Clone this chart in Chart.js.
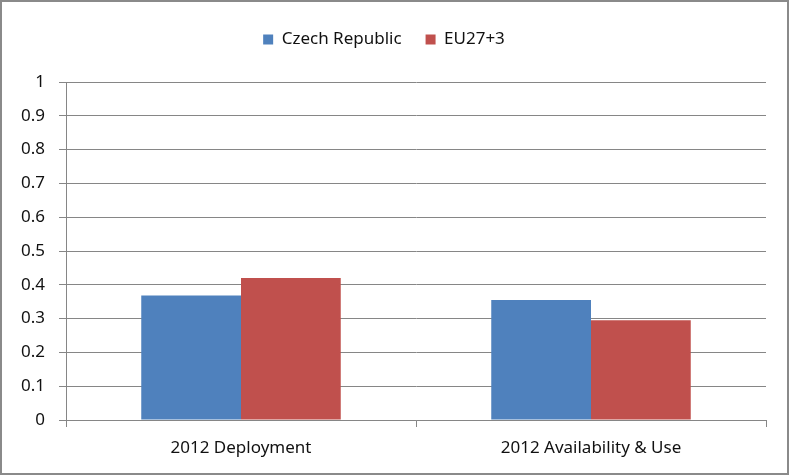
<!DOCTYPE html>
<html lang="en">
  <head>
    <meta charset="UTF-8" />
    <title>Czech Republic vs EU27+3</title>
    <script src="https://cdn.jsdelivr.net/npm/chart.js"></script>
    <style>
      body { margin: 0; background: #fff; }
      .frame {
        width: 785px;
        height: 471px;
        border: 2px solid #8a8a8a;
        background: #fff;
      }
    </style>
  </head>
  <body>
    <div class="frame">
      <canvas id="myChart" width="785" height="471"></canvas>
    </div>

    <script>
      const categories = ["2012 Deployment", "2012 Availability & Use"];
      const czechValues = [0.368, 0.355];
      const euValues = [0.42, 0.295];
      const yTicks = { min: 0, max: 1, step: 0.1 };

      const gridGrey = "#868686";

      // push the plot area down below the legend
      const legendSpacer = {
        id: "legendSpacer",
        beforeInit(chart) {
          const fit = chart.legend.fit;
          chart.legend.fit = function () {
            fit.bind(chart.legend)();
            this.height += 24;
          };
        },
      };

      const ctx = document.getElementById("myChart").getContext("2d");
      new Chart(ctx, {
        type: "bar",
        data: {
          labels: categories,
          datasets: [
            {
              label: "Czech Republic",
              data: czechValues,
              backgroundColor: "#4F81BD",
              barPercentage: 1,
              categoryPercentage: 0.57,
            },
            {
              label: "EU27+3",
              data: euValues,
              backgroundColor: "#C0504D",
              barPercentage: 1,
              categoryPercentage: 0.57,
            },
          ],
        },
        options: {
          responsive: false,
          animation: false,
          layout: { padding: { top: 5, right: 21, bottom: 0, left: 0 } },
          scales: {
            y: {
              min: yTicks.min,
              max: yTicks.max,
              ticks: {
                stepSize: yTicks.step,
                color: "#111",
                padding: 14,
                font: { family: "Noto Sans", size: 17 },
                callback: (v) => String(Math.round(v * 10) / 10),
              },
              grid: { color: gridGrey, tickLength: 7 },
              border: { color: gridGrey },
              afterFit(scale) { scale.width = 64; },
            },
            x: {
              offset: true,
              ticks: {
                color: "#111",
                padding: 11,
                font: { family: "Noto Sans", size: 17 },
              },
              grid: {
                offset: true,
                drawOnChartArea: false,
                color: gridGrey,
                tickLength: 7,
              },
              border: { color: gridGrey },
              afterFit(scale) { scale.height = 53; },
            },
          },
          plugins: {
            legend: {
              position: "top",
              labels: {
                boxWidth: 10,
                boxHeight: 10,
                padding: 24,
                color: "#111",
                font: { family: "Noto Sans", size: 17 },
              },
            },
            tooltip: { enabled: false },
          },
        },
        plugins: [legendSpacer],
      });
    </script>
  </body>
</html>
